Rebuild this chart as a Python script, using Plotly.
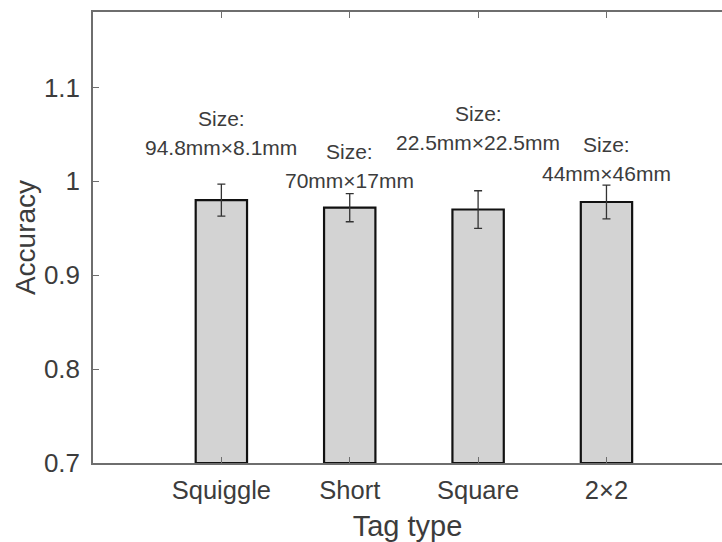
import plotly.graph_objects as go

# ---- data ----
categories = ["Squiggle", "Short", "Square", "2×2"]
accuracy = [0.980, 0.972, 0.970, 0.978]
error = [0.017, 0.015, 0.020, 0.018]
size_labels = ["94.8mm×8.1mm", "70mm×17mm", "22.5mm×22.5mm", "44mm×46mm"]
label_y = [1.0365, 1.0014, 1.0418, 1.0088]

x_pos = list(range(1, len(categories) + 1))

FONT = "Liberation Sans"
TXT = "#3c3c3c"
AX = "#6e6e6e"

fig = go.Figure()
fig.add_trace(go.Bar(
    x=x_pos, y=[a - 0.7 for a in accuracy], base=0.7,
    width=0.4,
    marker=dict(color="#d3d3d3", line=dict(color="#111111", width=2.2)),
    error_y=dict(type="data", array=error, visible=True, color="#333333",
                 thickness=1.3, width=4),
    hoverinfo="skip",
))

annotations = []
for xi, lab, ly in zip(x_pos, size_labels, label_y):
    annotations.append(dict(x=xi, y=ly, xref="x", yref="y", text=lab, showarrow=False,
                            font=dict(family=FONT, size=21, color=TXT),
                            xanchor="center", yanchor="middle"))
    annotations.append(dict(x=xi, y=ly, xref="x", yref="y", text="Size:", showarrow=False,
                            font=dict(family=FONT, size=21, color=TXT),
                            xanchor="center", yanchor="middle", yshift=29))

fig.update_layout(
    width=722, height=542,
    margin=dict(l=93, r=0, t=12, b=79),
    paper_bgcolor="white", plot_bgcolor="white",
    showlegend=False,
    annotations=annotations,
    font=dict(family=FONT, color=TXT),
)
fig.update_xaxes(
    range=[0, 4.9], tickmode="array", tickvals=x_pos, ticktext=categories,
    tickfont=dict(family=FONT, size=25.5, color=TXT),
    showline=True, linecolor=AX, linewidth=1.5, mirror="ticks",
    ticks="inside", ticklen=6, tickcolor=AX, tickwidth=1.2,
    showgrid=False, zeroline=False, ticklabelstandoff=4,
    title=dict(text="Tag type", font=dict(family=FONT, size=29, color=TXT), standoff=12),
)
fig.update_yaxes(
    range=[0.7, 1.1804], tickmode="array", tickvals=[0.7, 0.8, 0.9, 1.0, 1.1],
    ticktext=["0.7", "0.8", "0.9", "1", "1.1"],
    tickfont=dict(family=FONT, size=26, color=TXT),
    showline=True, linecolor=AX, linewidth=1.5, mirror=False,
    ticks="inside", ticklen=6, tickcolor=AX, tickwidth=1.2,
    showgrid=False, zeroline=False, ticklabelstandoff=6,
    title=dict(text="Accuracy", font=dict(family=FONT, size=28, color=TXT), standoff=0),
)

fig.write_html("out.html")
